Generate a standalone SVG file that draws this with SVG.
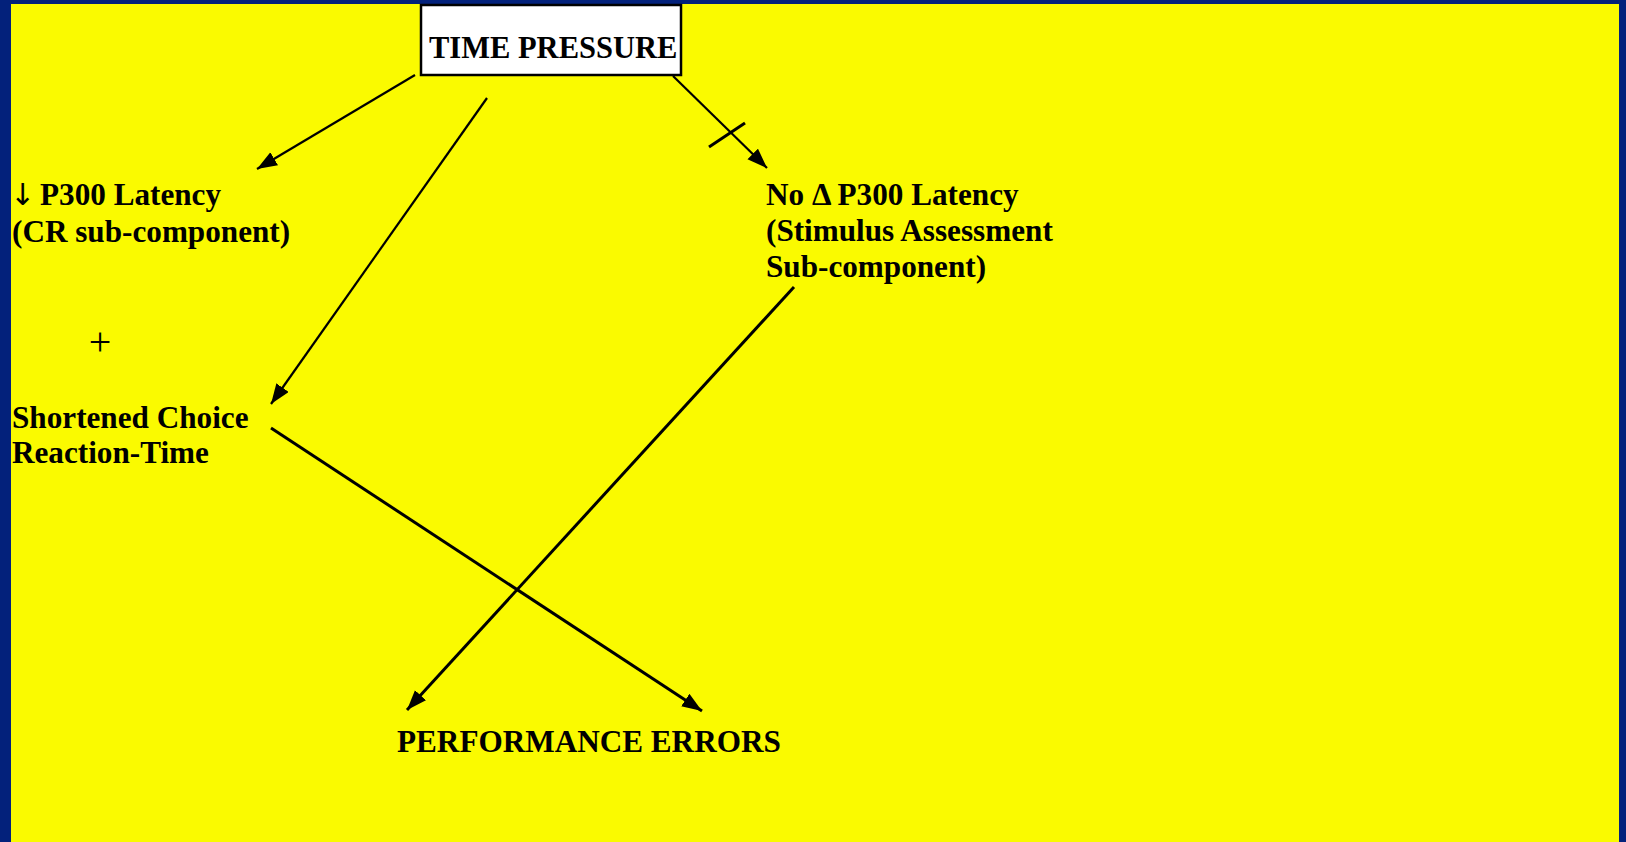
<svg xmlns="http://www.w3.org/2000/svg" width="1626" height="842" viewBox="0 0 1626 842">
  <style>
    .bg { fill: #03217B; }
    .panel { fill: #FAFA00; }
    .lbl { font-family: "Liberation Serif", "Times New Roman", serif; font-weight: bold; font-size: 31.2px; fill: #000; }
    .title { font-size: 30.5px; }
    .plain { font-family: "Liberation Serif", "Times New Roman", serif; font-weight: normal; font-size: 40px; fill: #000; }
    .sym { font-family: "DejaVu Sans", sans-serif; font-weight: normal; font-size: 30px; fill: #000; }
    .thin { stroke: #000; stroke-width: 2.2; fill: none; }
    .thick { stroke: #000; stroke-width: 3; fill: none; }
    .box { fill: #fff; stroke: #000; stroke-width: 2.5; }
  </style>
  <defs>
    <marker id="head" markerUnits="userSpaceOnUse" markerWidth="22" markerHeight="16" refX="20" refY="7.5" orient="auto">
      <path d="M0,0 L20,7.5 L0,15 Z" fill="#000"/>
    </marker>
  </defs>

  <!-- frame and panel -->
  <rect class="bg" x="0" y="0" width="1626" height="842"/>
  <rect class="panel" x="11" y="4" width="1608" height="838"/>

  <!-- connectors -->
  <g id="connectors">
    <line class="thin" x1="415" y1="75" x2="257" y2="169" marker-end="url(#head)"/>
    <line class="thin" x1="487" y1="98" x2="271" y2="404" marker-end="url(#head)"/>
    <line class="thin" x1="673" y1="76" x2="767" y2="168" marker-end="url(#head)"/>
    <line class="thick" x1="709" y1="147" x2="745" y2="123"/>
    <line class="thick" x1="794" y1="287" x2="407" y2="710" marker-end="url(#head)"/>
    <line class="thick" x1="271" y1="428" x2="702" y2="711" marker-end="url(#head)"/>
  </g>

  <g id="time-pressure">
    <rect class="box" x="421" y="5" width="260" height="70"/>
    <text class="lbl title" x="429" y="58">TIME PRESSURE</text>
  </g>

  <g id="p300-cr">
    <text class="sym" x="10" y="205">↓</text>
    <text class="lbl" x="40" y="205">P300 Latency</text>
    <text class="lbl" x="12" y="242">(CR sub-component)</text>
  </g>

  <g id="plus">
    <text class="plain" x="100" y="355" text-anchor="middle">+</text>
  </g>

  <g id="choice-rt">
    <text class="lbl" x="12" y="428">Shortened Choice</text>
    <text class="lbl" x="12" y="463">Reaction-Time</text>
  </g>

  <g id="p300-sa">
    <text class="lbl" x="766" y="205">No Δ P300 Latency</text>
    <text class="lbl" x="766" y="241">(Stimulus Assessment</text>
    <text class="lbl" x="766" y="277">Sub-component)</text>
  </g>

  <g id="errors">
    <text class="lbl" x="397" y="752">PERFORMANCE ERRORS</text>
  </g>
</svg>
